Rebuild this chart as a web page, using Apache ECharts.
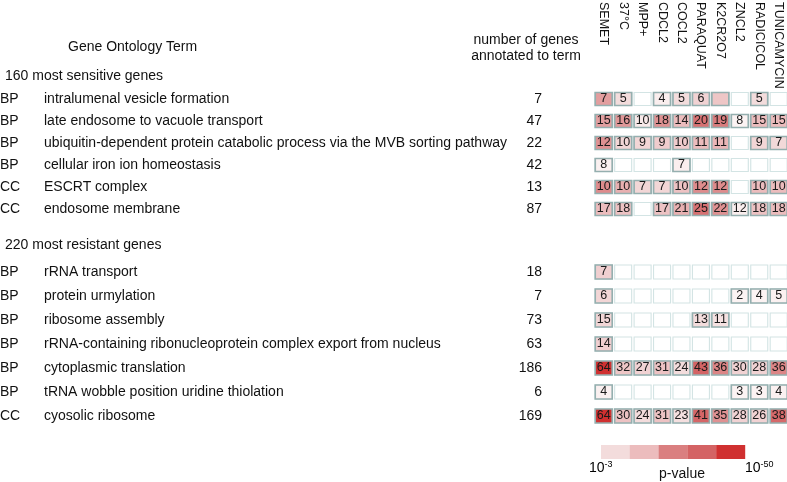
<!DOCTYPE html>
<html><head><meta charset="utf-8">
<script src="https://cdn.jsdelivr.net/npm/echarts@6/dist/echarts.min.js"></script>
<style>html,body{margin:0;padding:0;background:#fff;}#c{width:787px;height:482px;}</style>
</head><body><div id="c"></div>
<script>
// ---- data ----
const columns = ['SEMET','37°C','MPP+','CDCL2','COCL2','PARAQUAT','K2CR2O7','ZNCL2','RADICICOL','TUNICAMYCIN'];

const typesSens = ['BP','BP','BP','BP','CC','CC'];
const termsSens = ['intralumenal vesicle formation','late endosome to vacuole transport',
  'ubiquitin-dependent protein catabolic process via the MVB sorting pathway',
  'cellular iron ion homeostasis','ESCRT complex','endosome membrane'];
const genesSens = [7,47,22,42,13,87];
const countsSens = [
  [7,5,null,4,5,6,null,null,5,null],
  [15,16,10,18,14,20,19,8,15,15],
  [12,10,9,9,10,11,11,null,9,7],
  [8,null,null,null,7,null,null,null,null,null],
  [10,10,7,7,10,12,12,null,10,10],
  [17,18,null,17,21,25,22,12,18,18]
];
// estimated -log10(p-value)
const signifSens = [
  [25,10,null,3,10,13,17,null,10,null],
  [25,26,5,27,20,35,31,1,20,20],
  [27,12,12,15,15,20,21,null,12,11],
  [2,null,null,null,3,null,null,null,null,null],
  [28,22,12,12,18,28,28,null,20,20],
  [20,18,null,18,22,35,27,3,18,20]
];

const typesRes = ['BP','BP','BP','BP','BP','BP','CC'];
const termsRes = ['rRNA transport','protein urmylation','ribosome assembly',
  'rRNA-containing ribonucleoprotein complex export from nucleus',
  'cytoplasmic translation','tRNA wobble position uridine thiolation','cyosolic ribosome'];
const genesRes = [18,7,73,63,186,6,169];
const countsRes = [
  [7,null,null,null,null,null,null,null,null,null],
  [6,null,null,null,null,null,null,2,4,5],
  [15,null,null,null,null,13,11,null,null,null],
  [14,null,null,null,null,null,null,null,null,null],
  [64,32,27,31,24,43,36,30,28,36],
  [4,null,null,null,null,null,null,3,3,4],
  [64,30,24,31,23,41,35,28,26,38]
];
const signifRes = [
  [14,null,null,null,null,null,null,null,null,null],
  [12,null,null,null,null,null,null,1,1,2],
  [12,null,null,null,null,10,8,null,null,null],
  [14,null,null,null,null,null,null,null,null,null],
  [50,17,13,18,10,40,29,13,13,29],
  [2,null,null,null,null,null,null,1,1,2],
  [50,18,10,18,9,39,27,13,13,38]
];

const legendColors = ['#f3dcdc','#ecbcbd','#da7f80','#d46364','#d03030'];
const legendLabels = ['-3','-50'];

// ---- build ----
const FONT = 'Liberation Sans, Arial, sans-serif';
function cells(counts, signif){
  const out = [];
  signif.forEach((row, r) => row.forEach((v, c) => {
    if (v !== null) out.push([c, r, v, counts[r][c]]);
  }));
  return out;
}
function blanks(nRows){
  const out = [];
  for (let r = 0; r < nRows; r++) for (let c = 0; c < columns.length; c++) out.push([c, r]);
  return out;
}
const GL = 594, GW = 194.4;
const grids = [
  {left: GL, width: GW, top: 88, height: 132, containLabel: false, outerBoundsMode: 'none'},
  {left: GL, width: GW, top: 260, height: 168, containLabel: false, outerBoundsMode: 'none'}
];
function yAxes(gi, types, terms, genes){
  const base = {type:'category', gridIndex: gi, position:'left', offset: 0, inverse: true,
    axisLine:{show:false}, axisTick:{show:false}, splitLine:{show:false}};
  const lab = {fontSize: 14, color:'#111', fontFamily: FONT, interval: 0, hideOverlap: false};
  return [
    Object.assign({}, base, {data: terms, axisLabel: Object.assign({}, lab, {align:'left', margin: GL - 44})}),
    Object.assign({}, base, {data: types, axisLabel: Object.assign({}, lab, {align:'left', margin: GL - 0})}),
    Object.assign({}, base, {data: genes.map(String), axisLabel: Object.assign({}, lab, {align:'right', margin: GL - 542})})
  ];
}
const cellLabel = {
  show: true, position: 'inside', color: '#1a1a1a', fontSize: 12.5, fontFamily: FONT,
  formatter: p => (p.value[3] === null || p.value[3] === undefined) ? '' : String(p.value[3])
};
function blankSeries(xi, yi, n, h){
  return {type:'scatter', xAxisIndex: xi, yAxisIndex: yi, symbol:'rect', symbolSize:[17,h],
    data: blanks(n), silent: true, z: 1,
    itemStyle:{color:'#ffffff', borderColor:'#d3e4e4', borderWidth:1, opacity:1}};
}
function cellSeries(xi, yi, counts, signif, h){
  return {type:'scatter', xAxisIndex: xi, yAxisIndex: yi, symbol:'rect', symbolSize:[17,h],
    data: cells(counts, signif), z: 3,
    itemStyle:{borderColor:'#95afaf', borderWidth:1.5, opacity:1},
    label: cellLabel};
}

const sup = {fontSize: 9, fontFamily: FONT, color:'#111', verticalAlign:'top', lineHeight: 12, padding:[0,0,0,0]};
const option = {
  animation: false,
  backgroundColor: '#fff',
  textStyle: {fontFamily: FONT},
  grid: grids,
  xAxis: [
    {type:'category', gridIndex:0, position:'top', data: columns,
      axisLine:{show:false}, axisTick:{show:false}, splitLine:{show:false},
      axisLabel:{rotate:90, align:'left', verticalAlign:'middle', margin: 86, interval:0, hideOverlap:false,
        fontSize: 12.5, color:'#111', fontFamily: FONT}},
    {type:'category', gridIndex:1, data: columns, show:false}
  ],
  yAxis: [].concat(yAxes(0, typesSens, termsSens, genesSens), yAxes(1, typesRes, termsRes, genesRes)),
  visualMap: {
    type:'continuous', show:false, min:0, max:50, dimension:2, seriesIndex:[1,3],
    inRange:{color:['#fdf6f6','#f3dcdc','#ecbcbd','#da7f80','#d46364','#d03030']}
  },
  series: [
    blankSeries(0, 0, termsSens.length, 13),
    cellSeries(0, 0, countsSens, signifSens, 13),
    blankSeries(1, 3, termsRes.length, 14),
    cellSeries(1, 3, countsRes, signifRes, 14)
  ],
  graphic: [
    {type:'text', left: 68, top: 40, style:{text:'Gene Ontology Term', font:'14px ' + FONT, fill:'#111'}},
    {type:'text', x: 526, y: 32, style:{text:'number of genes\nannotated to term', font:'14px ' + FONT, fill:'#111', textAlign:'center', lineHeight: 16}},
    {type:'text', x: 5, y: 69, style:{text:'160 most sensitive genes', font:'14px ' + FONT, fill:'#111'}},
    {type:'text', x: 5, y: 238, style:{text:'220 most resistant genes', font:'14px ' + FONT, fill:'#111'}},
    {type:'text', x: 682, y: 467, style:{text:'p-value', font:'14px ' + FONT, fill:'#111', textAlign:'center'}}
  ].concat(legendColors.map((col, i) => ({
    type:'rect', shape:{x: 601 + i * 28.8, y: 445, width: 29, height: 14}, style:{fill: col}
  }))).concat([
    {type:'text', x: 589, y: 460, style:{text:'{b|10}{s|' + legendLabels[0] + '}', rich:{b:{fontSize:14, fontFamily:FONT, color:'#111', lineHeight:16}, s:sup}}},
    {type:'text', x: 745, y: 460, style:{text:'{b|10}{s|' + legendLabels[1] + '}', rich:{b:{fontSize:14, fontFamily:FONT, color:'#111', lineHeight:16}, s:sup}}}
  ])
};
const chart = echarts.init(document.getElementById('c'), null, {renderer:'canvas'});
chart.setOption(option);
</script>
</body></html>
